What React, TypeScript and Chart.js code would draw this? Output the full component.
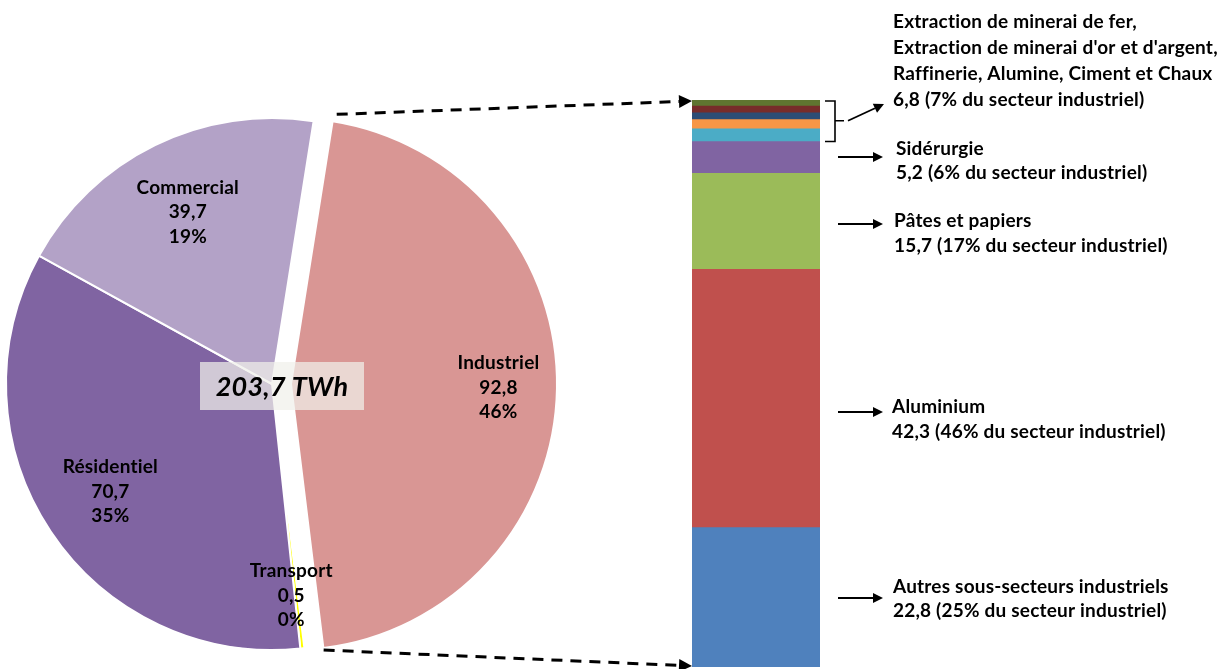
import React, { useEffect, useRef } from "react";
import { Chart, registerables } from "chart.js";

Chart.register(...registerables);

// Consommation d'électricité par secteur (TWh)
const sectors = ["Industriel", "Transport", "Résidentiel", "Commercial"];
const sectorTWh = [92.8, 0.5, 70.7, 39.7];
const sectorValueText = ["92,8", "0,5", "70,7", "39,7"];
const sectorShare = ["46%", "0%", "35%", "19%"];
const sectorColors = ["#D99694", "#FFFF00", "#8064A2", "#B3A2C7"];
const totalLabel = "203,7 TWh";

// Ventilation du secteur industriel (TWh), de bas en haut
const subsectors = [
  "Autres sous-secteurs industriels",
  "Aluminium",
  "Pâtes et papiers",
  "Sidérurgie",
  "Extraction de minerai de fer",
  "Extraction de minerai d'or et d'argent",
  "Raffinerie",
  "Alumine",
  "Ciment et Chaux",
];
const subsectorTWh = [22.8, 42.3, 15.7, 5.2, 2.1, 1.5, 1.1, 1.1, 1.0];
const subsectorColors = [
  "#4F81BD",
  "#C0504D",
  "#9BBB59",
  "#8064A2",
  "#4BACC6",
  "#F79646",
  "#2C4D75",
  "#772C2A",
  "#5F7530",
];
const industrialTotal = 92.8;

// Texte des annotations à droite de la barre
const noteMines = [
  "Extraction de minerai de fer,",
  "Extraction de minerai d'or et d'argent,",
  "Raffinerie, Alumine, Ciment et Chaux",
  "6,8 (7% du secteur industriel)",
];
const noteSiderurgie = ["Sidérurgie", "5,2 (6% du secteur industriel)"];
const notePates = ["Pâtes et papiers", "15,7 (17% du secteur industriel)"];
const noteAluminium = ["Aluminium", "42,3 (46% du secteur industriel)"];
const noteAutres = ["Autres sous-secteurs industriels", "22,8 (25% du secteur industriel)"];

// Géométrie et mise en page
const W = 1222;
const H = 669;
const PIE_CX = 272;
const PIE_CY = 384;
const PIE_R = 266;
const PIE_ROTATION = 9;
const EXPLODE = 19;
const LABEL_RADIUS = [0.78, 0.8, 0.73, 0.72];
const FONT = "Lato, 'Open Sans', sans-serif";
const LABEL_FONT = `bold 19px ${FONT}`;
const LETTER_SPACING = "0.2px";

function drawArrow(
  ctx: CanvasRenderingContext2D,
  x1: number,
  y1: number,
  x2: number,
  y2: number,
  width: number,
  headLen: number,
  headHalf: number,
  dash: number[] = []
) {
  const a = Math.atan2(y2 - y1, x2 - x1);
  const bx = x2 - Math.cos(a) * headLen;
  const by = y2 - Math.sin(a) * headLen;
  ctx.save();
  ctx.strokeStyle = "#000";
  ctx.fillStyle = "#000";
  ctx.lineWidth = width;
  ctx.setLineDash(dash);
  ctx.beginPath();
  ctx.moveTo(x1, y1);
  ctx.lineTo(bx, by);
  ctx.stroke();
  ctx.setLineDash([]);
  ctx.beginPath();
  ctx.moveTo(x2, y2);
  ctx.lineTo(bx - Math.sin(a) * headHalf, by + Math.cos(a) * headHalf);
  ctx.lineTo(bx + Math.sin(a) * headHalf, by - Math.cos(a) * headHalf);
  ctx.closePath();
  ctx.fill();
  ctx.restore();
}

function setTextStyle(ctx: CanvasRenderingContext2D, font: string) {
  ctx.font = font;
  (ctx as any).letterSpacing = LETTER_SPACING;
  ctx.fillStyle = "#000";
  ctx.textBaseline = "middle";
}

function drawLines(ctx: CanvasRenderingContext2D, lines: string[], x: number, y: number, lh: number) {
  ctx.save();
  setTextStyle(ctx, LABEL_FONT);
  ctx.textAlign = "left";
  lines.forEach((t, i) => ctx.fillText(t, x, y + i * lh));
  ctx.restore();
}

// Décale la part industrielle vers l'extérieur (secteur détaché)
const explodePlugin = {
  id: "explodeSlice",
  afterDatasetsUpdate(chart: any) {
    const arc: any = chart.getDatasetMeta(0).data[0];
    if (arc) arc.x = arc.x + EXPLODE;
  },
};

// Étiquettes des secteurs et total au centre
const pieLabelsPlugin = {
  id: "pieLabels",
  afterDatasetsDraw(chart: any) {
    const ctx: CanvasRenderingContext2D = chart.ctx;
    const arcs = chart.getDatasetMeta(0).data;
    ctx.save();
    setTextStyle(ctx, LABEL_FONT);
    ctx.textAlign = "center";
    arcs.forEach((arc: any, i: number) => {
      const mid = (arc.startAngle + arc.endAngle) / 2;
      const rho = arc.outerRadius * LABEL_RADIUS[i];
      const x = arc.x + Math.cos(mid) * rho - (i === 1 ? 5 : 0);
      const y = arc.y + Math.sin(mid) * rho;
      const lines = [sectors[i], sectorValueText[i], sectorShare[i]];
      lines.forEach((t, k) => ctx.fillText(t, x, y + (k - 1) * 24.5));
    });

    // total dans un encadré semi-transparent
    const bx = PIE_CX - 72;
    const by = PIE_CY - 22;
    ctx.fillStyle = "rgba(240, 240, 234, 0.72)";
    ctx.fillRect(bx, by, 164, 48);
    setTextStyle(ctx, `italic bold 27px ${FONT}`);
    ctx.fillText(totalLabel, bx + 82, by + 25);
    ctx.restore();
  },
};

// Connecteurs, accolade, flèches et textes autour de la barre
const barNotesPlugin = {
  id: "barNotes",
  afterDraw(chart: any) {
    const ctx: CanvasRenderingContext2D = chart.ctx;
    const area = chart.chartArea;
    const ys = chart.scales.y;

    // connecteurs pointillés depuis le secteur industriel
    const total = sectorTWh.reduce((a, b) => a + b, 0);
    const start = ((PIE_ROTATION - 90) * Math.PI) / 180;
    const end = start + (sectorTWh[0] / total) * 2 * Math.PI;
    const cx = PIE_CX + EXPLODE;
    const rr = PIE_R + 7;
    drawArrow(ctx, cx + Math.cos(start) * rr + 3, PIE_CY + Math.sin(start) * rr, area.left, ys.getPixelForValue(industrialTotal) + 1, 3, 13, 6.5, [11, 8]);
    drawArrow(ctx, cx + Math.cos(end) * (PIE_R + 2), PIE_CY + Math.sin(end) * (PIE_R + 2), area.left, ys.getPixelForValue(0) - 1, 3, 13, 6.5, [11, 8]);

    // accolade du groupe « mines, raffinerie, alumine, ciment »
    const cum = (n: number) => subsectorTWh.slice(0, n).reduce((a, b) => a + b, 0);
    const gTop = ys.getPixelForValue(industrialTotal);
    const gBot = ys.getPixelForValue(cum(4));
    const gMid = (gTop + gBot) / 2;
    ctx.save();
    ctx.strokeStyle = "#000";
    ctx.lineWidth = 1.6;
    ctx.beginPath();
    ctx.moveTo(area.right + 5, gTop + 1);
    ctx.lineTo(area.right + 15, gTop + 1);
    ctx.lineTo(area.right + 15, gBot);
    ctx.lineTo(area.right + 5, gBot);
    ctx.moveTo(area.right + 15, gMid);
    ctx.lineTo(area.right + 24, gMid);
    ctx.stroke();
    ctx.restore();
    drawArrow(ctx, area.right + 28, gMid, 884, 104, 1.8, 10, 5);

    const ax1 = 838;
    const ax2 = 883;
    drawArrow(ctx, ax1, 157, ax2, 157, 1.8, 10, 5);
    drawArrow(ctx, ax1, 224, ax2, 224, 1.8, 10, 5);
    drawArrow(ctx, ax1, 412, ax2, 412, 1.8, 10, 5);
    drawArrow(ctx, ax1, 598, ax2, 598, 1.8, 10, 5);

    drawLines(ctx, noteMines, 893, 22, 26);
    drawLines(ctx, noteSiderurgie, 896, 149, 24);
    drawLines(ctx, notePates, 894, 221, 24.5);
    drawLines(ctx, noteAluminium, 892, 407, 25);
    drawLines(ctx, noteAutres, 893, 587, 23.5);
  },
};

export default function App() {
  const pieRef = useRef<HTMLCanvasElement | null>(null);
  const barRef = useRef<HTMLCanvasElement | null>(null);

  useEffect(() => {
    if (!pieRef.current || !barRef.current) return;

    const pie = new Chart(pieRef.current, {
      type: "pie",
      data: {
        labels: sectors,
        datasets: [
          {
            data: sectorTWh,
            backgroundColor: sectorColors,
            borderColor: "#FFFFFF",
            borderWidth: 2,
          },
        ],
      },
      options: {
        responsive: false,
        animation: false,
        rotation: PIE_ROTATION,
        radius: PIE_R,
        layout: {
          padding: { left: 0, right: W - 2 * PIE_CX, top: 2 * PIE_CY - H, bottom: 0 },
        },
        plugins: { legend: { display: false }, tooltip: { enabled: false } },
        events: [],
      },
      plugins: [explodePlugin, pieLabelsPlugin],
    } as any);

    const bar = new Chart(barRef.current, {
      type: "bar",
      data: {
        labels: ["Industriel"],
        datasets: subsectors.map((name, i) => ({
          label: name,
          data: [subsectorTWh[i]],
          backgroundColor: subsectorColors[i],
          borderWidth: 0,
          barPercentage: 1,
          categoryPercentage: 1,
        })),
      },
      options: {
        responsive: false,
        animation: false,
        layout: { padding: { left: 692, right: W - 820, top: 100, bottom: 2 } },
        scales: {
          x: { stacked: true, display: false },
          y: { stacked: true, display: false, min: 0, max: industrialTotal },
        },
        plugins: { legend: { display: false }, tooltip: { enabled: false } },
        events: [],
      },
      plugins: [barNotesPlugin],
    } as any);

    return () => {
      pie.destroy();
      bar.destroy();
    };
  }, []);

  const canvasStyle: React.CSSProperties = { position: "absolute", left: 0, top: 0 };
  return (
    <div style={{ position: "absolute", left: 0, top: 0, width: W, height: H, background: "#FFFFFF" }}>
      <canvas ref={pieRef} width={W} height={H} style={canvasStyle} />
      <canvas ref={barRef} width={W} height={H} style={canvasStyle} />
    </div>
  );
}
